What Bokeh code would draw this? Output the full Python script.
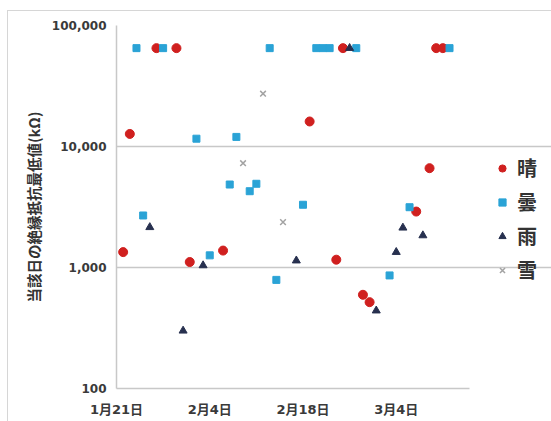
import pandas as pd
from bokeh.plotting import figure
from bokeh.models import FixedTicker, Legend, LegendItem, NumeralTickFormatter, Range1d
from bokeh.embed import file_html
from bokeh.resources import INLINE

# Axis extent and ticks
start_date = "2019-01-21"
end_date = "2019-03-15"
tick_dates = ["2019-01-21", "2019-02-04", "2019-02-18", "2019-03-04"]
tick_labels = ["1月21日", "2月4日", "2月18日", "3月4日"]
y_ticks = [100, 1000, 10000, 100000]

# Daily minimum insulation resistance (kΩ) by weather
sunny_dates = ["2019-01-22", "2019-01-23", "2019-01-27", "2019-01-30", "2019-02-01",
               "2019-02-06", "2019-02-19", "2019-02-23", "2019-02-24", "2019-02-27",
               "2019-02-28", "2019-03-07", "2019-03-09", "2019-03-10", "2019-03-11"]
sunny_vals = [1340, 12700, 65000, 65000, 1110, 1380, 16100, 1160, 65000, 595,
              517, 2900, 6620, 65000, 65000]

cloudy_dates = ["2019-01-24", "2019-01-25", "2019-01-28", "2019-02-02", "2019-02-04",
                "2019-02-07", "2019-02-08", "2019-02-10", "2019-02-11", "2019-02-13",
                "2019-02-14", "2019-02-18", "2019-02-20", "2019-02-21", "2019-02-22",
                "2019-02-26", "2019-03-03", "2019-03-06", "2019-03-12"]
cloudy_vals = [65000, 2690, 65000, 11600, 1260, 4850, 12000, 4270, 4920, 65000,
               790, 3300, 65000, 65000, 65000, 65000, 860, 3150, 65000]

rain_dates = ["2019-01-26", "2019-01-31", "2019-02-03", "2019-02-17", "2019-02-25",
              "2019-03-01", "2019-03-04", "2019-03-05", "2019-03-08"]
rain_vals = [2150, 300, 1040, 1140, 65000, 440, 1340, 2130, 1840]

snow_dates = ["2019-02-09", "2019-02-12", "2019-02-15"]
snow_vals = [7280, 27300, 2370]

weather_labels = ["晴", "曇", "雨", "雪"]

t0 = pd.Timestamp(start_date)


def day_offsets(dates):
    return [(pd.Timestamp(d) - t0).days for d in dates]


RED = "#d0201f"
CYAN = "#2aa3d6"
NAVY = "#27304f"
GRAY = "#a3a3a3"
GRID = "#c8c8c8"
TEXT = "#3a3a3a"
NUM_FONT = "'DejaVu Sans', 'Noto Sans CJK JP'"
JP_FONT = "'Noto Sans CJK JP'"

# The frame runs to the right edge so the legend can sit inside it;
# grid and axis lines stop at the last date of the period.
x_end = day_offsets([end_date])[0]
plot_px = 353          # width of the dated part of the frame
frame_px = 435         # full frame width including the legend area
x_range = Range1d(0, x_end * frame_px / plot_px)

p = figure(width=543, height=410, y_axis_type="log",
           x_range=x_range, y_range=(100, 100000),
           output_backend="svg", toolbar_location=None,
           min_border_left=108, min_border_right=0,
           min_border_top=14, min_border_bottom=33)
p.margin = (11, 0, 0, 8)
p.styles = {"outline": "1.5px solid #d6d6d6"}
p.outline_line_color = None
p.background_fill_color = "white"
p.border_fill_color = "white"

r_sunny = p.scatter(day_offsets(sunny_dates), sunny_vals, marker="circle", size=9,
                    fill_color=RED, line_color=RED)
r_cloudy = p.scatter(day_offsets(cloudy_dates), cloudy_vals, marker="square", size=7,
                     fill_color=CYAN, line_color=CYAN)
r_rain = p.scatter(day_offsets(rain_dates), rain_vals, marker="triangle", size=8,
                   fill_color=NAVY, line_color=NAVY)
r_snow = p.scatter(day_offsets(snow_dates), snow_vals, marker="x", size=8,
                   line_color=GRAY, line_width=1.5)

# x axis: date ticks every two weeks
xt = day_offsets(tick_dates)
p.xaxis.ticker = FixedTicker(ticks=xt)
p.xaxis.bounds = (0, x_end)
p.xaxis.major_label_overrides = {t: lab for t, lab in zip(xt, tick_labels)}
p.xaxis.major_label_text_font = NUM_FONT
p.xaxis.major_label_text_font_size = "13px"
p.xaxis.major_label_text_font_style = "bold"
p.xaxis.major_label_text_color = TEXT
p.xaxis.major_label_standoff = 7
p.xaxis.axis_line_color = GRID
p.xaxis.axis_line_width = 1.5
p.xaxis.major_tick_line_color = None
p.xaxis.minor_tick_line_color = None
p.xgrid.grid_line_color = None

# y axis: log scale
p.yaxis.ticker = FixedTicker(ticks=y_ticks)
p.yaxis.formatter = NumeralTickFormatter(format="0,0")
p.yaxis.major_label_text_font = NUM_FONT
p.yaxis.major_label_text_font_size = "12px"
p.yaxis.major_label_text_font_style = "bold"
p.yaxis.major_label_text_color = TEXT
p.yaxis.major_label_standoff = 4
p.yaxis.axis_line_color = GRID
p.yaxis.axis_line_width = 1.5
p.yaxis.major_tick_line_color = None
p.yaxis.minor_tick_line_color = None
p.yaxis.axis_label = "当該日の絶縁抵抗最低値(kΩ)"
p.yaxis.axis_label_text_font = JP_FONT
p.yaxis.axis_label_text_font_size = "14.5px"
p.yaxis.axis_label_text_font_style = "bold"
p.yaxis.axis_label_text_color = "#333333"
p.yaxis.axis_label_standoff = 5
p.ygrid.grid_line_color = GRID
p.ygrid.grid_line_width = 1.5
p.ygrid.bounds = (0, x_end)

legend = Legend(items=[LegendItem(label=weather_labels[0], renderers=[r_sunny]),
                       LegendItem(label=weather_labels[1], renderers=[r_cloudy]),
                       LegendItem(label=weather_labels[2], renderers=[r_rain]),
                       LegendItem(label=weather_labels[3], renderers=[r_snow])],
                location=(377, 104), margin=0, padding=0, spacing=5,
                glyph_width=18, glyph_height=18, label_height=24,
                label_standoff=6, border_line_color=None,
                background_fill_alpha=0)
legend.label_text_font = JP_FONT
legend.label_text_font_size = "20px"
legend.label_text_font_style = "bold"
legend.label_text_color = "#333333"
legend.label_text_baseline = "middle"
p.add_layout(legend, "center")

open("out.html", "w").write(file_html(p, INLINE))
